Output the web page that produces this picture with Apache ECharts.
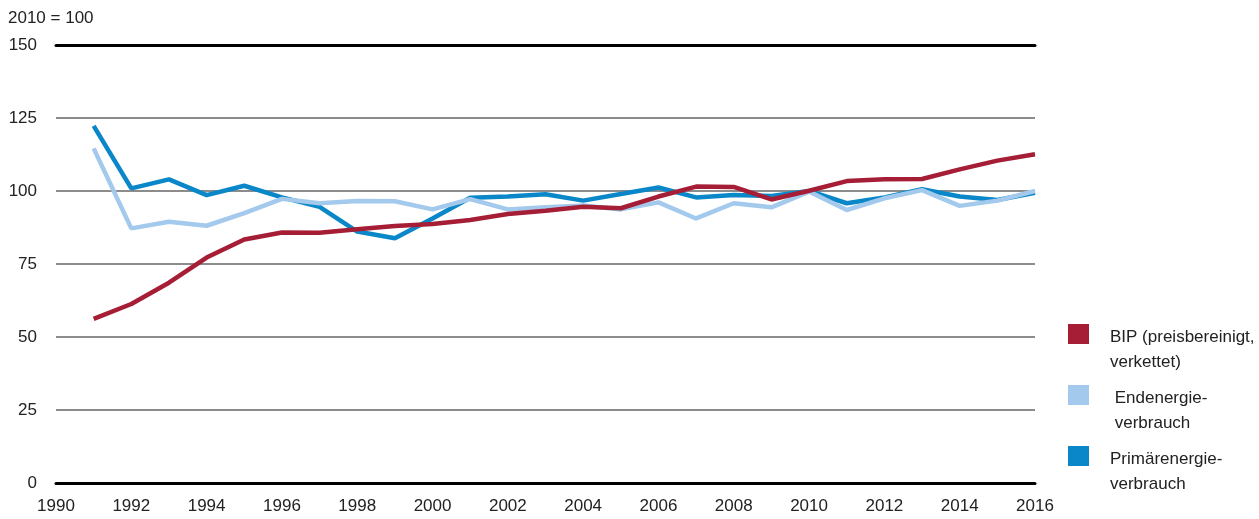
<!DOCTYPE html>
<html>
<head>
<meta charset="utf-8">
<script src="https://cdn.jsdelivr.net/npm/echarts@6/dist/echarts.min.js"></script>
<style>html,body{margin:0;padding:0;background:#fff;}#c{width:1259px;height:519px;}</style>
</head>
<body>
<div id="c"></div>
<script>
const years = [1991,1992,1993,1994,1995,1996,1997,1998,1999,2000,2001,2002,2003,2004,2005,2006,2007,2008,2009,2010,2011,2012,2013,2014,2015,2016];
const bip = [56.2,61.3,68.6,77.2,83.4,85.8,85.7,86.9,88.0,88.7,90.1,92.1,93.2,94.6,94.1,98.1,101.5,101.4,97.1,100.1,103.4,104.0,104.1,107.4,110.4,112.6];
const endenergie = [114.6,87.2,89.5,88.1,92.4,97.3,95.8,96.6,96.5,93.7,97.2,93.7,94.4,95.0,93.7,96.1,90.6,95.8,94.4,99.8,93.5,97.5,100.3,94.9,96.7,100.0];
const primaer = [122.3,100.9,104.0,98.6,101.8,97.8,94.6,86.1,83.8,90.6,97.7,98.1,98.9,96.7,99.0,101.2,97.8,98.6,98.3,100.0,95.8,97.8,100.6,98.1,96.9,99.4];
const names = ['BIP (preisbereinigt,\nverkettet)', ' Endenergie-\n verbrauch', 'Primärenergie-\nverbrauch'];
const yTitle = '2010 = 100';

const FONT = '"Liberation Sans", Arial, sans-serif';
const pairs = arr => years.map((y, i) => [y, arr[i]]);

const chart = echarts.init(document.getElementById('c'));
chart.setOption({
  animation: false,
  textStyle: { fontFamily: FONT },
  title: { text: yTitle, left: 8, top: 10, padding: 0, textStyle: { fontSize: 17, fontWeight: 'normal', color: '#222', fontFamily: FONT } },
  grid: { left: 56, right: 224, top: 45, bottom: 36, containLabel: false },
  legend: {
    orient: 'vertical', left: 1068, top: 293, padding: 0,
    icon: 'rect', itemWidth: 21, itemHeight: 20, itemGap: -21,
    data: [names[0], names[1], names[2]],
    formatter: n => '{s| }\n' + n,
    textStyle: { fontSize: 17, color: '#222', lineHeight: 25, padding: [0, 0, 0, 16], fontFamily: FONT,
      rich: { s: { height: 32, lineHeight: 32, fontSize: 10 } } }
  },
  xAxis: [{
    type: 'value', min: 1990, max: 2016, interval: 2,
    axisLine: { show: true, lineStyle: { color: '#000', width: 3 } },
    axisTick: { show: false }, splitLine: { show: false },
    axisLabel: { fontSize: 17, color: '#222', margin: 15, formatter: v => String(v) }
  }, {
    type: 'value', min: 1990, max: 2016, interval: 2, position: 'top',
    axisLine: { show: true, lineStyle: { color: '#000', width: 3 } },
    axisTick: { show: false }, splitLine: { show: false }, axisLabel: { show: false }
  }],
  yAxis: {
    type: 'value', min: 0, max: 150, interval: 25,
    axisLine: { show: false }, axisTick: { show: false },
    splitLine: { show: true, lineStyle: { color: '#8c8c8c', width: 2 } },
    axisLabel: { fontSize: 17, color: '#222', margin: 19 }
  },
  series: [
    { name: names[2], type: 'line', data: pairs(primaer), symbol: 'none', color: '#0a87c8', lineStyle: { width: 4.5, color: '#0a87c8' }, itemStyle: { color: '#0a87c8' } },
    { name: names[1], type: 'line', data: pairs(endenergie), symbol: 'none', color: '#a3c9ec', lineStyle: { width: 4.5, color: '#a3c9ec' }, itemStyle: { color: '#a3c9ec' } },
    { name: names[0], type: 'line', data: pairs(bip), symbol: 'none', color: '#a51e36', lineStyle: { width: 4.5, color: '#a51e36' }, itemStyle: { color: '#a51e36' } }
  ]
});
</script>
</body>
</html>
